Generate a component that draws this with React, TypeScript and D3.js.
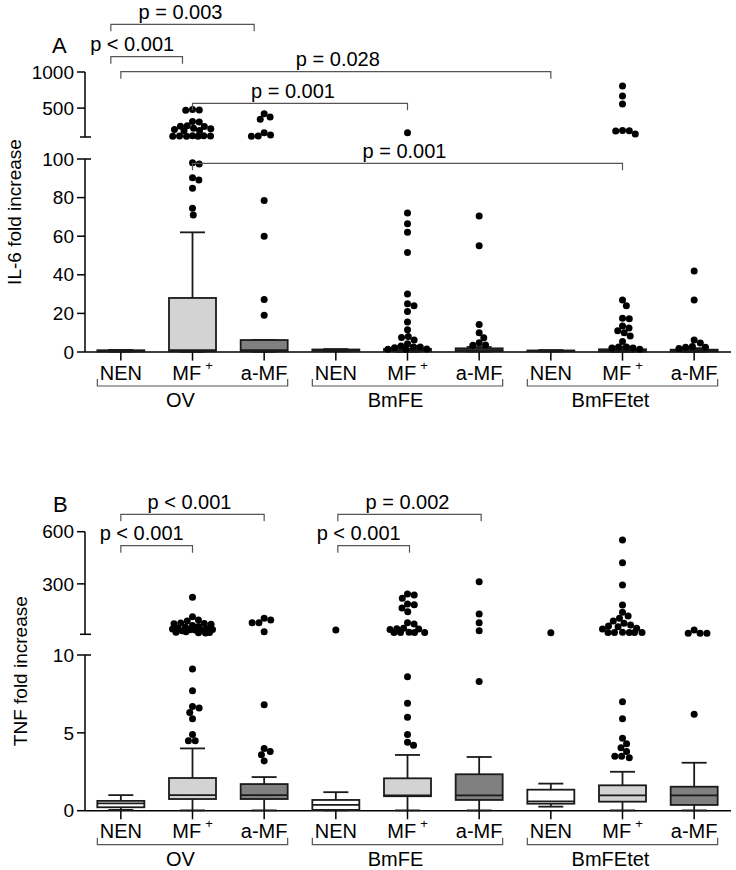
import React from "react";
import * as d3 from "d3";

// ---------- DATA ----------
const categories = ["NEN", "MF+", "a-MF", "NEN", "MF+", "a-MF", "NEN", "MF+", "a-MF"];
const groupNames = ["OV", "BmFE", "BmFEtet"];
const groupFirst = [0, 3, 6];
const groupLast = [2, 5, 8];

// IL-6 fold increase (panel A)
const il6WhiskerLow = [0.2, 0.1, 0.1, 0.4, 0.1, 0.2, 0.3, 0.1, 0.1];
const il6Q1 = [0.3, 0.4, 0.4, 0.6, 0.4, 0.5, 0.4, 0.3, 0.3];
const il6Median = [0.6, 1.0, 1.0, 0.9, 0.9, 1.0, 0.6, 0.9, 0.8];
const il6Q3 = [0.9, 28.0, 6.2, 1.3, 1.6, 1.9, 0.8, 1.4, 1.2];
const il6WhiskerHigh = [1.1, 62.0, 6.2, 1.5, 3.2, 2.6, 1.0, 2.8, 2.0];
const il6Outliers = [
  [],
  [480, 474, 470, 315, 308, 255, 250, 245, 220, 215, 205, 190, 185, 118, 116, 114, 113, 112, 111, 110, 98.1, 97.4, 90.3, 89.1, 84.8, 74.5, 71],
  [423, 377, 346, 160, 128, 114, 112, 78.5, 60, 27.2, 19],
  [],
  [160, 72, 66.5, 62, 51.5, 30, 25, 24, 21, 15.5, 11.5, 8, 7.5, 6.2, 4.3, 3.1, 2.6, 2.6, 2.2, 1.6, 1.4, 1.4],
  [70.5, 55, 14.3, 10, 7.4, 4.8, 3.6, 3.5],
  [],
  [806, 668, 557, 190, 187, 183, 142, 26.9, 24, 17.5, 17.2, 13.5, 12.5, 11, 10, 8.3, 5.5, 2.6, 2.6, 2.1, 2.1, 1.4],
  [42, 27, 6.2, 4.7, 2.8, 2.5, 2.4, 1.8],
];
const il6LowTicks = [0, 20, 40, 60, 80, 100];
const il6HighTicks = [500, 1000];
const il6Brackets = [
  { from: 0, to: 2, label: "p = 0.003" },
  { from: 0, to: 1, label: "p < 0.001" },
  { from: 0, to: 6, label: "p = 0.028" },
  { from: 1, to: 4, label: "p = 0.001" },
  { from: 1, to: 7, label: "p = 0.001" },
];

// TNF fold increase (panel B)
const tnfWhiskerLow = [0.05, 0.02, 0.02, 0.02, 0.02, 0.02, 0.26, 0.02, 0.02];
const tnfQ1 = [0.22, 0.75, 0.75, 0.05, 0.93, 0.69, 0.45, 0.58, 0.37];
const tnfMedian = [0.47, 1.0, 1.0, 0.37, 0.98, 0.99, 0.6, 0.99, 0.99];
const tnfQ3 = [0.63, 2.1, 1.71, 0.69, 2.08, 2.34, 1.35, 1.63, 1.54];
const tnfWhiskerHigh = [1.0, 4.0, 2.16, 1.19, 3.58, 3.45, 1.74, 2.5, 3.08];
const tnfOutliers = [
  [],
  [223, 111, 92, 86, 75, 72, 70, 68, 60, 55, 50, 45, 42, 40, 38, 36, 35, 33, 30, 25, 22, 20, 19, 18, 9.1, 7.7, 6.7, 6.6, 6.3, 5.9, 4.9, 4.5, 4.5],
  [102, 92, 77, 77, 25, 6.8, 4.0, 3.8, 3.6, 3.2],
  [35],
  [242, 236, 217, 184, 180, 161, 140, 77, 69, 45, 42, 40, 38, 22, 21, 21, 20, 20, 8.6, 6.9, 6.0, 4.9, 4.4, 4.2],
  [312, 127, 77, 31, 8.3],
  [19],
  [552, 422, 293, 178, 137, 115, 102, 86, 73, 63, 58, 54, 45, 40, 22, 21, 21, 21, 20, 20, 7.0, 5.9, 4.65, 4.3, 4.05, 3.8, 3.5, 3.4, 3.5],
  [35, 16, 16, 16, 6.2],
];
const tnfLowTicks = [0, 5, 10];
const tnfHighTicks = [300, 600];
const tnfBrackets = [
  { from: 0, to: 2, label: "p < 0.001" },
  { from: 0, to: 1, label: "p < 0.001" },
  { from: 3, to: 5, label: "p = 0.002" },
  { from: 3, to: 4, label: "p < 0.001" },
];

// ---------- LAYOUT / STYLE ----------
const FONT = "'Liberation Sans', Arial, Helvetica, sans-serif";
const AXIS_X = 85;
const AXIS_RIGHT = 731;
const BOX_FILLS = ["#ffffff", "#d3d3d3", "#808080"];
const BOX_HALF = 23.5;
const CAP_HALF = 12.5;
const DOT_R = 3.5;
const SWARM_MAX = 20;

const xBand = d3.scaleBand<number>().domain(d3.range(categories.length)).range([85, 730]);
const cx = (i: number) => (xBand(i) as number) + xBand.bandwidth() / 2;

function beeswarm(ys: number[], r: number, maxOff: number): number[] {
  const d = 2 * r - 0.2;
  const placed: { x: number; y: number }[] = [];
  const xs = new Array(ys.length).fill(0);
  const order = ys.map((_, i) => i).sort((a, b) => ys[a] - ys[b]);
  const minDist = (c: number, y: number) =>
    placed.reduce((m, p) => Math.min(m, Math.hypot(p.x - c, p.y - y)), Infinity);
  for (const i of order) {
    const y = ys[i];
    const cands = [0];
    for (const p of placed) {
      const dy = Math.abs(p.y - y);
      if (dy < d) {
        const dx = Math.sqrt(d * d - dy * dy);
        cands.push(p.x + dx, p.x - dx);
      }
    }
    cands.sort((a, b) => Math.abs(a) - Math.abs(b) || b - a);
    let best: number | null = null;
    for (const c of cands) {
      if (Math.abs(c) > maxOff) continue;
      if (minDist(c, y) >= d - 0.01) {
        best = c;
        break;
      }
    }
    if (best === null) {
      let bestScore = -1;
      best = 0;
      for (let c = -maxOff; c <= maxOff; c += 0.5) {
        const s = minDist(c, y);
        if (s > bestScore + 1e-6) {
          bestScore = s;
          best = c;
        }
      }
    }
    xs[i] = best;
    placed.push({ x: best, y });
  }
  return xs;
}

type PanelProps = {
  letter: string;
  letterPos: [number, number];
  title: string;
  titleX: number;
  yLow: d3.ScaleLinear<number, number>;
  yHigh: d3.ScaleLinear<number, number>;
  lowTicks: number[];
  highTicks: number[];
  wLow: number[];
  q1: number[];
  med: number[];
  q3: number[];
  wHigh: number[];
  outliers: number[][];
  brackets: { from: number; to: number; label: string }[];
  bracketY: number[];
  bracketShift: number[];
  bracketTextDx: number[];
};

function Panel(p: PanelProps) {
  const lowMax = p.yLow.domain()[1];
  const highMin = p.yHigh.domain()[0];
  const y = (v: number) => (v <= lowMax ? p.yLow(v) : p.yHigh(v));
  const zeroY = p.yLow(0);
  const lowTop = p.yLow(lowMax);
  const highBottom = p.yHigh(highMin);
  const highTop = p.yHigh(p.yHigh.domain()[1]);
  const titleCY = (highTop + zeroY) / 2;

  return (
    <g fontFamily={FONT} fill="#000">
      <text x={p.letterPos[0]} y={p.letterPos[1]} fontSize={22} fill="#000">{p.letter}</text>
      <text
        transform={`translate(${p.titleX},${titleCY}) rotate(-90)`}
        textAnchor="middle"
        fontSize={19}
        fill="#000"
      >
        {p.title}
      </text>

      {/* y axis: upper segment */}
      <line x1={AXIS_X} x2={AXIS_X} y1={highTop} y2={highBottom} stroke="#000" strokeWidth={1.5} />
      <line x1={AXIS_X - 5} x2={AXIS_X + 6} y1={highBottom} y2={highBottom} stroke="#000" strokeWidth={1.5} />
      {p.highTicks.map((t) => (
        <g key={"h" + t}>
          <line x1={AXIS_X - 8} x2={AXIS_X} y1={p.yHigh(t)} y2={p.yHigh(t)} stroke="#000" strokeWidth={1.5} />
          <text x={AXIS_X - 11} y={p.yHigh(t)} dy="0.35em" textAnchor="end" fontSize={19} fill="#000">{t}</text>
        </g>
      ))}
      {/* y axis: lower segment */}
      <line x1={AXIS_X} x2={AXIS_X} y1={lowTop} y2={zeroY} stroke="#000" strokeWidth={1.5} />
      <line x1={AXIS_X} x2={AXIS_X + 6} y1={lowTop} y2={lowTop} stroke="#000" strokeWidth={1.5} />
      {p.lowTicks.map((t) => (
        <g key={"l" + t}>
          <line x1={AXIS_X - 8} x2={AXIS_X} y1={p.yLow(t)} y2={p.yLow(t)} stroke="#000" strokeWidth={1.5} />
          <text x={AXIS_X - 11} y={p.yLow(t)} dy="0.35em" textAnchor="end" fontSize={19} fill="#000">{t}</text>
        </g>
      ))}

      {/* x axis */}
      <line x1={AXIS_X} x2={AXIS_RIGHT} y1={zeroY} y2={zeroY} stroke="#000" strokeWidth={1.5} />
      {categories.map((c, i) => (
        <line key={"xt" + i} x1={cx(i)} x2={cx(i)} y1={zeroY} y2={zeroY + 8.6} stroke="#000" strokeWidth={1.5} />
      ))}

      {/* boxes */}
      {categories.map((c, i) => {
        const x = cx(i);
        return (
          <g key={"b" + i}>
            <line x1={x} x2={x} y1={y(p.wHigh[i])} y2={y(p.q3[i])} stroke="#1a1a1a" strokeWidth={1.8} />
            <line x1={x} x2={x} y1={y(p.q1[i])} y2={y(p.wLow[i])} stroke="#1a1a1a" strokeWidth={1.8} />
            <line x1={x - CAP_HALF} x2={x + CAP_HALF} y1={y(p.wHigh[i])} y2={y(p.wHigh[i])} stroke="#1a1a1a" strokeWidth={1.8} />
            <line x1={x - CAP_HALF} x2={x + CAP_HALF} y1={y(p.wLow[i])} y2={y(p.wLow[i])} stroke="#1a1a1a" strokeWidth={1.8} />
            <rect
              x={x - BOX_HALF}
              width={BOX_HALF * 2}
              y={y(p.q3[i])}
              height={Math.max(0, y(p.q1[i]) - y(p.q3[i]))}
              fill={BOX_FILLS[i % 3]}
              stroke="#1a1a1a"
              strokeWidth={1.8}
            />
            <line x1={x - BOX_HALF} x2={x + BOX_HALF} y1={y(p.med[i])} y2={y(p.med[i])} stroke="#1a1a1a" strokeWidth={1.8} />
          </g>
        );
      })}

      {/* outlier dots */}
      {p.outliers.map((vals, i) => {
        const ys = vals.map(y);
        const xs = beeswarm(ys, DOT_R, SWARM_MAX);
        return vals.map((v, j) => (
          <circle key={"d" + i + "_" + j} cx={cx(i) + xs[j]} cy={ys[j]} r={DOT_R} fill="#000" />
        ));
      })}

      {/* category labels */}
      {categories.map((c, i) =>
        c === "MF+" ? (
          <text key={"cl" + i} x={cx(i)} y={zeroY + 27.5} textAnchor="middle" fontSize={20} fill="#000">
            MF
            <tspan dx={4} dy={-10} fontSize={13} fill="#000">+</tspan>
          </text>
        ) : (
          <text key={"cl" + i} x={cx(i)} y={zeroY + 27.5} textAnchor="middle" fontSize={20} fill="#000">{c}</text>
        )
      )}

      {/* group brackets */}
      {groupNames.map((g, k) => {
        const x1 = cx(groupFirst[k]) - BOX_HALF;
        const x2 = cx(groupLast[k]) + BOX_HALF;
        const by = zeroY + 34;
        return (
          <g key={"g" + k}>
            <path d={`M${x1},${by - 7}V${by}H${x2}V${by - 7}`} fill="none" stroke="#555" strokeWidth={1.2} />
            <text x={cx(groupFirst[k] + 1) - 12} y={zeroY + 55} textAnchor="middle" fontSize={20} fill="#000">{g}</text>
          </g>
        );
      })}

      {/* significance brackets */}
      {p.brackets.map((b, k) => {
        const x1 = cx(b.from) + p.bracketShift[k];
        const x2 = cx(b.to) + p.bracketShift[k];
        const by = p.bracketY[k];
        return (
          <g key={"sb" + k}>
            <path d={`M${x1},${by + 7}V${by}H${x2}V${by + 7}`} fill="none" stroke="#555" strokeWidth={1.2} />
            <text x={(x1 + x2) / 2 + p.bracketTextDx[k]} y={by - 5.5} textAnchor="middle" fontSize={20} fill="#000">{b.label}</text>
          </g>
        );
      })}
    </g>
  );
}

export default function App() {
  const yLowA = d3.scaleLinear().domain([0, 100]).range([352, 159]);
  const yHighA = d3.scaleLinear().domain([100, 1000]).range([137, 72]);
  const yLowB = d3.scaleLinear().domain([0, 10]).range([810.7, 655]);
  const yHighB = d3.scaleLinear().domain([10, 600]).range([634.3, 531.7]);

  return (
    <svg
      width={736}
      height={870}
      viewBox="0 0 736 870"
      style={{ position: "absolute", left: 0, top: 0, background: "#fff" }}
    >
      <rect x={0} y={0} width={736} height={870} fill="#fff" />
      <Panel
        letter="A"
        letterPos={[52, 53]}
        title="IL-6 fold increase"
        titleX={20.5}
        yLow={yLowA}
        yHigh={yHighA}
        lowTicks={il6LowTicks}
        highTicks={il6HighTicks}
        wLow={il6WhiskerLow}
        q1={il6Q1}
        med={il6Median}
        q3={il6Q3}
        wHigh={il6WhiskerHigh}
        outliers={il6Outliers}
        brackets={il6Brackets}
        bracketY={[24.3, 56.7, 71.7, 103.3, 163.3]}
        bracketShift={[-10, -10, 0, 0, 0]}
        bracketTextDx={[-2, -14.5, 2, -7, -3]}
      />
      <Panel
        letter="B"
        letterPos={[53, 512]}
        title="TNF fold increase"
        titleX={27}
        yLow={yLowB}
        yHigh={yHighB}
        lowTicks={tnfLowTicks}
        highTicks={tnfHighTicks}
        wLow={tnfWhiskerLow}
        q1={tnfQ1}
        med={tnfMedian}
        q3={tnfQ3}
        wHigh={tnfWhiskerHigh}
        outliers={tnfOutliers}
        brackets={tnfBrackets}
        bracketY={[514.3, 545.7, 514.3, 545.7]}
        bracketShift={[0, 0, 2, 2]}
        bracketTextDx={[-3, -15, -2, -15]}
      />
    </svg>
  );
}
